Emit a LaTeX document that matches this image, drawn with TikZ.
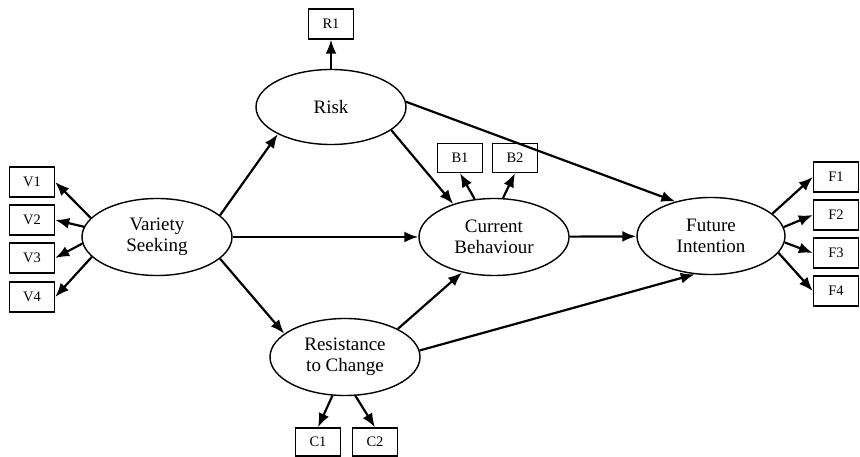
\documentclass[tikz,border=0pt]{standalone}
\usepackage{fontspec}
\setmainfont{Liberation Serif}
\usetikzlibrary{arrows.meta,shapes.geometric}

\tikzset{
  latent/.style={draw, ellipse, line width=1.4pt, minimum width=150pt, minimum height=77pt,
    inner sep=0pt, align=center, font=\fontsize{19}{21}\selectfont},
  item/.style={draw, rectangle, line width=1.4pt, minimum width=45pt, minimum height=30pt,
    inner sep=0pt, font=\fontsize{14.5}{16}\selectfont},
  link/.style={-{Latex[length=14pt,width=11pt]}, line width=2.2pt}
}

\begin{document}
\begin{tikzpicture}[x=1pt, y=-1pt]
  \useasboundingbox (0,0) rectangle (860,457);

  \node[latent] (VS) at (157,237) {Variety\\Seeking};
  \node[latent, minimum height=75pt] (Risk) at (331,107) {Risk};
  \node[latent] (CB) at (494,237) {Current\\Behaviour};
  \node[latent, minimum width=148pt] (FI) at (711,236) {Future\\Intention};
  \node[latent] (RC) at (345,357) {Resistance\\to Change};

  \node[item] (R1) at (331,24) {R1};
  \node[item, minimum height=29pt] (B1) at (460,158) {B1};
  \node[item, minimum height=29pt] (B2) at (515,158) {B2};
  \node[item, minimum height=28pt] (C1) at (318,442) {C1};
  \node[item, minimum height=28pt] (C2) at (375,442) {C2};

  \node[item] (V1) at (32,182) {V1};
  \node[item] (V2) at (32,220) {V2};
  \node[item] (V3) at (32,258) {V3};
  \node[item] (V4) at (32,297) {V4};

  \node[item] (F1) at (836,177) {F1};
  \node[item] (F2) at (836,215) {F2};
  \node[item] (F3) at (836,253) {F3};
  \node[item] (F4) at (836,291) {F4};

  \path[link] (VS.19) edge (Risk.207);
  \path[link] (VS) edge (CB);
  \path[link] (VS.-19) edge (RC.159);
  \path[link] (Risk.-21) edge (CB.141);
  \path[link] (Risk.4) edge (FI.136);
  \path[link] (Risk) edge (R1);
  \path[link] (CB.117) edge (B1.south);
  \path[link] (CB.77) edge (B2.south);
  \path[link] (CB) edge (FI);
  \path[link] (RC.28) edge (CB.228);
  \path[link] (RC.5) edge (FI.247);
  \path[link] (RC.252) edge (C1.north);
  \path[link] (RC.285) edge (C2.north);

  \path[link] (VS.164) edge (V1.east);
  \path[link] (VS.172) edge (V2.east);
  \path[link] (VS.185) edge (V3.east);
  \path[link] (VS.197) edge (V4.east);

  \path[link] (FI.20) edge (F1.west);
  \path[link] (FI.7) edge (F2.west);
  \path[link] (FI.-5) edge (F3.west);
  \path[link] (FI.-14) edge (F4.west);
\end{tikzpicture}
\end{document}
